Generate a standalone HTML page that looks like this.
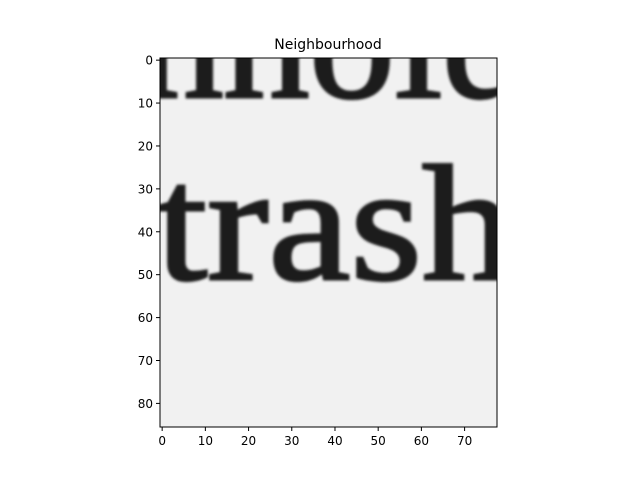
<!DOCTYPE html>
<html><head><meta charset="utf-8"><style>body{margin:0;background:#fff}svg{display:block}</style></head>
<body>
<svg id="c" width="640" height="480" xmlns="http://www.w3.org/2000/svg" font-family="'DejaVu Sans', sans-serif">
<defs>
<clipPath id="clip"><rect x="160" y="58" width="337" height="369"/></clipPath>
<filter id="blur"><feGaussianBlur stdDeviation="1.4"/></filter>
</defs>
<rect width="640" height="480" fill="#fff"/>
<text x="328" y="49" font-size="14" text-anchor="middle">Neighbourhood</text>
<g clip-path="url(#clip)">
<rect x="160" y="58" width="337" height="369" fill="#f1f1f1"/>
<g filter="url(#blur)" fill="#1e1e1e" stroke="#1e1e1e" stroke-width="3" font-family="'Liberation Serif', serif">
<text x="138" y="97" font-size="165" textLength="390" lengthAdjust="spacingAndGlyphs">nhold</text>
<text x="156" y="279" font-size="165" textLength="358" lengthAdjust="spacingAndGlyphs">trash</text>
</g>
</g>
<rect x="160" y="58" width="337" height="369" fill="none" stroke="#000" stroke-width="1"/>
<g id="xt"></g><g id="yt"></g>
</svg>
<script>
const xTicks=[0,10,20,30,40,50,60,70];
const yTicks=[0,10,20,30,40,50,60,70,80];
const imgW=78, imgH=86;
const L=160,T=58,W=337,H=369;
const xs=v=>L+(v+0.5)*W/imgW, ys=v=>T+(v+0.5)*H/imgH;
const NS="http://www.w3.org/2000/svg";
const xt=document.getElementById('xt'), yt=document.getElementById('yt');
xTicks.forEach(v=>{
 const l=document.createElementNS(NS,'line');
 l.setAttribute('x1',xs(v));l.setAttribute('x2',xs(v));l.setAttribute('y1',T+H);l.setAttribute('y2',T+H+4);l.setAttribute('stroke','#000');
 
 
 xt.appendChild(l);
 const t=document.createElementNS(NS,'text');
 t.setAttribute('x',xs(v));t.setAttribute('y',T+H+18);t.setAttribute('font-size','12');t.setAttribute('text-anchor','middle');
 t.textContent=v;
 
 
 xt.appendChild(t);
});
yTicks.forEach(v=>{
 const l=document.createElementNS(NS,'line');
 l.setAttribute('x1',L-4);l.setAttribute('x2',L);l.setAttribute('y1',ys(v));l.setAttribute('y2',ys(v));l.setAttribute('stroke','#000');
 
 
 yt.appendChild(l);
 const t=document.createElementNS(NS,'text');
 t.setAttribute('x',L-7);t.setAttribute('y',ys(v)+4.5);t.setAttribute('font-size','12');t.setAttribute('text-anchor','end');
 t.textContent=v;
 
 
 yt.appendChild(t);
});
</script>
</body></html>
